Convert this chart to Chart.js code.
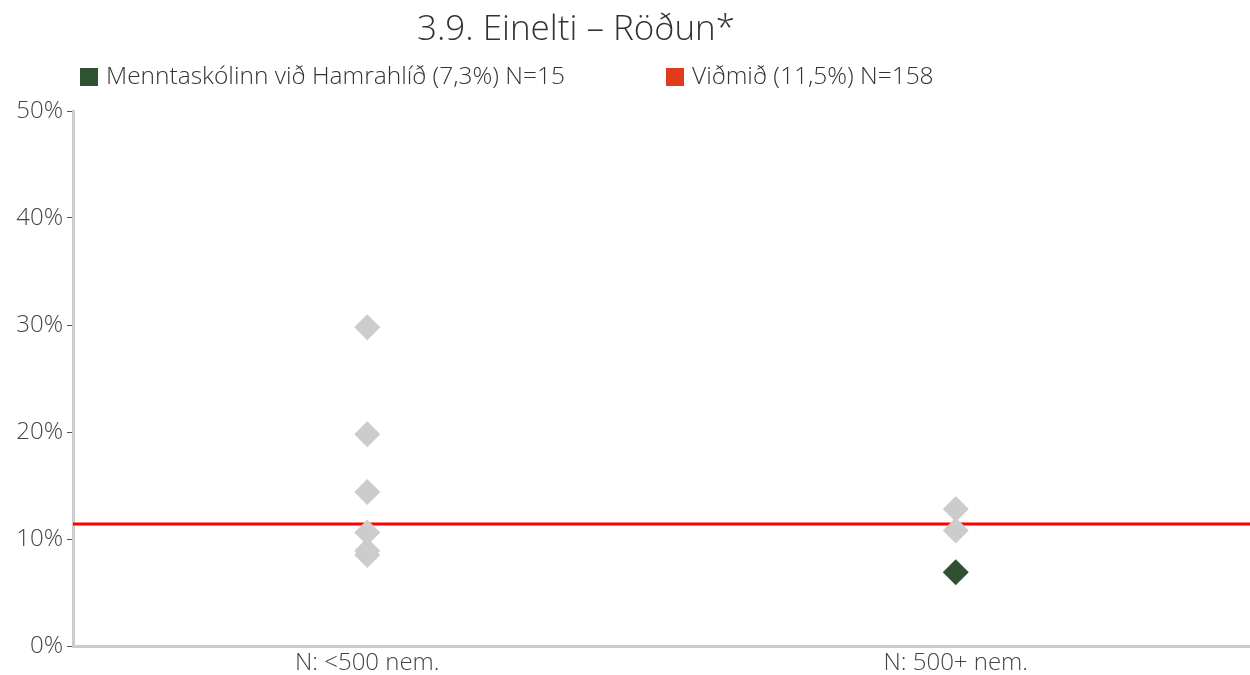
<!DOCTYPE html>
<html>
<head>
<meta charset="utf-8">
<script src="https://cdn.jsdelivr.net/npm/chart.js@4.4.1/dist/chart.umd.min.js"></script>
<style>
  html, body { margin: 0; padding: 0; background: #fff; }
</style>
</head>
<body>
<canvas id="chart" width="1250" height="675"></canvas>
<script>
// flokkar (x-ás)
var categories = ['N: <500 nem.', 'N: 500+ nem.'];
// aðrir skólar, gráir tíglar
var otherX = [0, 0, 0, 0, 0, 0, 1, 1];
var otherY = [29.8, 19.8, 14.4, 10.6, 8.9, 8.5, 12.8, 10.8];
// skólinn sjálfur
var schoolX = [1];
var schoolY = [6.9];
// viðmið (rauð lína)
var benchmark = 11.4;
var yTicks = [0, 10, 20, 30, 40, 50];

var titleText = '3.9. Einelti \u2013 R\u00f6\u00f0un*';
var legendItems = [
    { text: 'Menntask\u00f3linn vi\u00f0 Hamrahl\u00ed\u00f0 (7,3%) N=15', color: '#2e5331', x: 80 },
    { text: 'Vi\u00f0mi\u00f0 (11,5%) N=158', color: '#e03c1c', x: 666 }
];

var FONT = '"Open Sans", Lato, sans-serif';

// titill og skýringar teiknuð sjálf
var headerPlugin = {
    id: 'header',
    afterDraw: function(chart) {
        var ctx = chart.ctx;
        ctx.save();
        ctx.fillStyle = '#333';
        ctx.font = '300 35px ' + FONT;
        ctx.textAlign = 'center';
        ctx.textBaseline = 'middle';
        ctx.fillText(titleText, 576, 30);

        ctx.font = '300 24.5px ' + FONT;
        ctx.textAlign = 'left';
        legendItems.forEach(function(item) {
            ctx.fillStyle = item.color;
            ctx.fillRect(item.x, 68, 18, 18);
            ctx.fillStyle = '#333';
            ctx.fillText(item.text, item.x + 26, 77);
        });
        ctx.restore();
    }
};

var ctx = document.getElementById('chart').getContext('2d');
var chart = new Chart(ctx, {
    type: 'scatter',
    data: {
        datasets: [
            {
                label: 'Viðmið',
                type: 'line',
                data: [{ x: -0.5, y: benchmark }, { x: 1.5, y: benchmark }],
                borderColor: '#ff0000',
                borderWidth: 3,
                pointRadius: 0,
                order: 3
            },
            {
                label: 'Aðrir',
                data: otherX.map(function(x, i) { return { x: x, y: otherY[i] }; }),
                pointStyle: 'rectRot',
                pointRadius: 13,
                backgroundColor: '#cccccc',
                borderWidth: 0,
                order: 2
            },
            {
                label: 'Skóli',
                data: schoolX.map(function(x, i) { return { x: x, y: schoolY[i] }; }),
                pointStyle: 'rectRot',
                pointRadius: 13,
                backgroundColor: '#2f5131',
                borderWidth: 0,
                order: 1
            }
        ]
    },
    options: {
        responsive: false,
        animation: false,
        layout: { autoPadding: false, padding: { top: 111, right: 0, left: 0, bottom: 0 } },
        plugins: {
            legend: { display: false },
            title: { display: false },
            tooltip: { enabled: false }
        },
        scales: {
            x: {
                type: 'linear',
                min: -0.5,
                max: 1.5,
                afterBuildTicks: function(scale) {
                    scale.ticks = categories.map(function(c, i) { return { value: i }; });
                },
                afterFit: function(scale) {
                    scale.height = 29;
                    scale.paddingLeft = 0;
                    scale.paddingRight = 0;
                },
                ticks: {
                    callback: function(v) { return categories[v]; },
                    color: '#444',
                    font: { family: FONT, size: 24, weight: '300' },
                    padding: 3,
                    maxRotation: 0
                },
                grid: { display: false, drawTicks: false },
                border: { display: true, color: '#cccccc', width: 3 }
            },
            y: {
                min: 0,
                max: 50,
                afterBuildTicks: function(scale) {
                    scale.ticks = yTicks.map(function(v) { return { value: v }; });
                },
                afterFit: function(scale) {
                    scale.width = 73;
                    scale.paddingTop = 0;
                    scale.paddingBottom = 0;
                },
                ticks: {
                    callback: function(v) { return v + '%'; },
                    color: '#444',
                    font: { family: FONT, size: 24, weight: '300' },
                    padding: 4
                },
                grid: {
                    drawOnChartArea: false,
                    drawTicks: true,
                    tickLength: 6,
                    tickColor: '#555',
                    tickWidth: 1
                },
                border: { display: true, color: '#cccccc', width: 3 }
            }
        }
    },
    plugins: [headerPlugin]
});
</script>
</body>
</html>
